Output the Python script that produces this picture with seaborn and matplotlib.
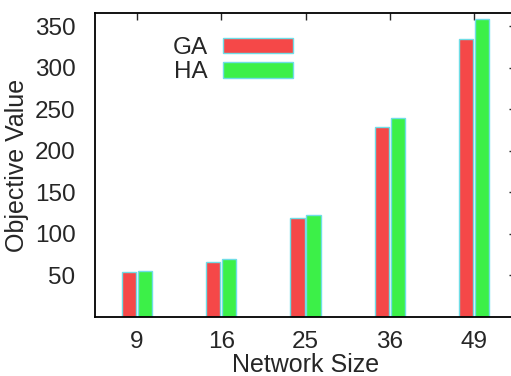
import numpy as np
import pandas as pd
import matplotlib
matplotlib.use("Agg")
import matplotlib.pyplot as plt
import seaborn as sns

# --- datos ---
network_sizes = ["9", "16", "25", "36", "49"]
ga_values = [54, 66, 119, 229, 335]
ha_values = [55, 70, 123, 240, 359]
series_names = ["GA", "HA"]
y_ticks = [50, 100, 150, 200, 250, 300, 350]

df = pd.DataFrame({
    "size": network_sizes * 2,
    "value": ga_values + ha_values,
    "algo": [series_names[0]] * len(network_sizes) + [series_names[1]] * len(network_sizes),
})

sns.set_style("white")
plt.rcParams["font.family"] = ["Liberation Sans", "DejaVu Sans"]

fig = plt.figure(figsize=(5.11, 3.76), dpi=100)
ax = fig.add_axes([95 / 511, 59 / 376, 421 / 511, 304 / 376])

palette = {"GA": "#f54848", "HA": "#3cf048"}
sns.barplot(
    data=df, x="size", y="value", hue="algo", order=network_sizes,
    palette=palette, width=0.38, gap=0.12, edgecolor="#6fdde6",
    linewidth=1.0, ax=ax, saturation=1,
)

ax.set_xlim(-0.5, 4.5)
ax.set_ylim(0, 366)
ax.set_yticks(y_ticks)
ax.set_xlabel("Network Size", fontsize=18, labelpad=0)
ax.set_ylabel("Objective Value", fontsize=18, labelpad=4)
ax.tick_params(axis="both", labelsize=17.5, direction="in", length=5,
               top=True, right=True, width=1)
ax.tick_params(axis="x", pad=10)
ax.tick_params(axis="y", pad=14)
for s in ax.spines.values():
    s.set_linewidth(1.3)
    s.set_color("black")
ax.spines["right"].set_visible(False)

leg = ax.legend(
    loc="upper left", bbox_to_anchor=(0.133, 0.993), frameon=False,
    markerfirst=False, fontsize=17.5, handlelength=2.9, handleheight=0.6,
    labelspacing=0.1, handletextpad=0.6, title=None,
)

fig.savefig("out.png", dpi=100)
